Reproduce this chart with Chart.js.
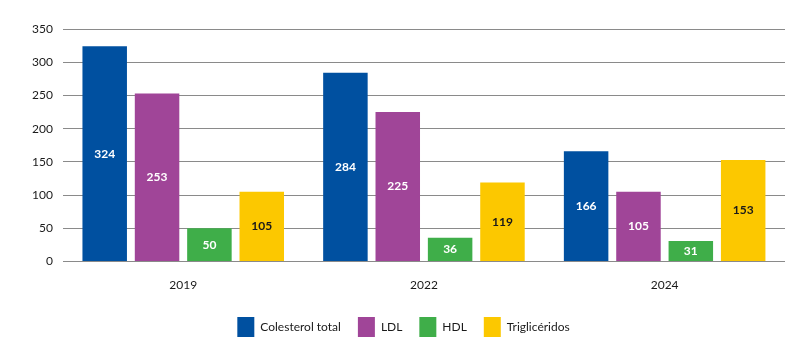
<!DOCTYPE html>
<html>
<head>
<meta charset="utf-8">
<script src="https://cdn.jsdelivr.net/npm/chart.js@4"></script>
<style>
    html, body { margin: 0; padding: 0; background: #fff; }
    #wrap { width: 803px; height: 353px; position: relative; }
</style>
</head>
<body>
<div id="wrap"><canvas id="lipidChart"></canvas></div>
<script>
// data
const years = ['2019', '2022', '2024'];
const colesterolTotal = [324, 284, 166];
const ldl = [253, 225, 105];
const hdl = [50, 36, 31];
const trigliceridos = [105, 119, 153];
const yTicks = [0, 50, 100, 150, 200, 250, 300, 350];

const FONT = 'Lato, "Open Sans", "Noto Sans", sans-serif';

// value labels in the middle of each bar
const barLabels = {
    id: 'barLabels',
    afterDatasetsDraw(chart) {
        const ctx = chart.ctx;
        ctx.save();
        ctx.font = 'bold 12px ' + FONT;
        ctx.textAlign = 'center';
        ctx.textBaseline = 'middle';
        chart.data.datasets.forEach((ds, i) => {
            const meta = chart.getDatasetMeta(i);
            meta.data.forEach((bar, j) => {
                const midY = (bar.y + bar.base) / 2;
                ctx.fillStyle = ds.labelColor;
                ctx.fillText(ds.data[j], bar.x, midY);
            });
        });
        ctx.restore();
    }
};

const mkSet = (label, data, color, labelColor) => ({
    label,
    data,
    backgroundColor: color,
    labelColor,
    borderWidth: 0,
    barPercentage: 0.85,
    categoryPercentage: 0.87
});

const ctx = document.getElementById('lipidChart').getContext('2d');
new Chart(ctx, {
    type: 'bar',
    data: {
        labels: years,
        datasets: [
            mkSet('Colesterol total', colesterolTotal, '#0050a0', '#ffffff'),
            mkSet('LDL', ldl, '#a04598', '#ffffff'),
            mkSet('HDL', hdl, '#3fae49', '#ffffff'),
            mkSet('Triglicéridos', trigliceridos, '#fcc800', '#1a1a1a')
        ]
    },
    options: {
        responsive: true,
        maintainAspectRatio: false,
        animation: false,
        layout: { padding: { left: 22, right: 18, top: 29, bottom: 6 } },
        plugins: {
            tooltip: { enabled: false },
            legend: {
                position: 'bottom',
                labels: {
                    color: '#1a1a1a',
                    font: { family: FONT, size: 12 },
                    boxWidth: 17,
                    boxHeight: 20,
                    padding: 17
                }
            }
        },
        scales: {
            x: {
                grid: { display: false },
                border: { display: false },
                ticks: {
                    color: '#1a1a1a',
                    font: { family: FONT, size: 12 },
                    padding: 8
                }
            },
            y: {
                min: 0,
                max: 350,
                afterBuildTicks: axis => {
                    axis.ticks = yTicks.map(v => ({ value: v }));
                },
                grid: { color: '#8a8a8a', lineWidth: 1, drawTicks: false },
                border: { display: false },
                ticks: {
                    color: '#1a1a1a',
                    font: { family: FONT, size: 12 },
                    padding: 10
                }
            }
        }
    },
    plugins: [barLabels]
});
</script>
</body>
</html>
